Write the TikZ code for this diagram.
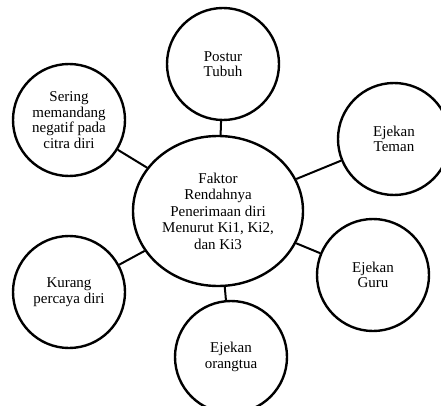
\documentclass[tikz,border=0pt]{standalone}
\usepackage{fontspec}
\setmainfont{Liberation Serif}
\usetikzlibrary{shapes.geometric}
\tikzset{
  bubble/.style={circle, draw=black, line width=2.4pt, minimum size=112pt, inner sep=0pt, align=center, font=\fontsize{15}{15.5}\selectfont},
  hub/.style={ellipse, draw=black, line width=2.4pt, minimum width=170pt, minimum height=150pt, inner sep=0pt, align=center, font=\fontsize{15}{16.5}\selectfont},
  link/.style={draw=black, line width=2pt}
}
\begin{document}
\begin{tikzpicture}[x=1pt,y=-1pt]
\useasboundingbox (0,0) rectangle (441,406);
\clip (0,0) rectangle (441,406);
\node[hub] (c) at (218,211) {Faktor\\Rendahnya\\Penerimaan diri\\Menurut Ki1, Ki2,\\dan Ki3};
\node[bubble] (p) at (223,64) {Postur\\Tubuh};
\node[bubble] (s) at (69,120) {Sering\\memandang\\negatif pada\\citra diri};
\node[bubble] (t) at (394,139) {Ejekan\\Teman};
\node[bubble] (g) at (373,275) {Ejekan\\Guru};
\node[bubble] (k) at (69,292) {Kurang\\percaya diri};
\node[bubble] (o) at (231,357) {Ejekan\\orangtua};
\draw[link] (c) -- (p);
\draw[link] (c) -- (s);
\draw[link] (c) -- (t);
\draw[link] (c) -- (g);
\draw[link] (c) -- (k);
\draw[link] (c) -- (o);
\end{tikzpicture}
\end{document}
